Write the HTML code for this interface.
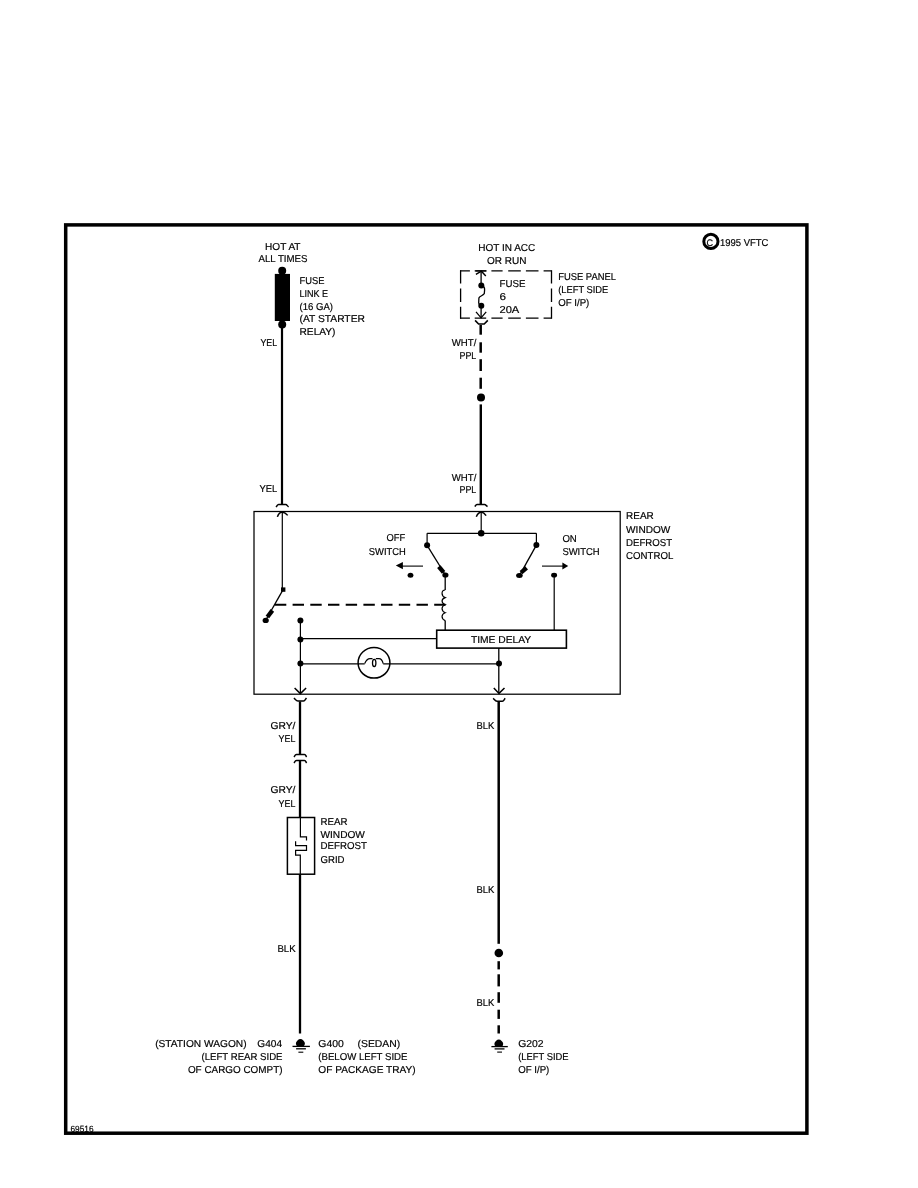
<!DOCTYPE html>
<html><head><meta charset="utf-8"><style>
html,body{margin:0;padding:0;background:#fff;overflow:hidden;width:918px;height:1188px;}
svg{display:block;will-change:transform;}
text{font-family:"Liberation Sans",sans-serif;fill:#000;stroke:#000;stroke-width:0.18px;text-rendering:geometricPrecision;}
</style></head><body>
<svg width="918" height="1188" viewBox="0 0 918 1188">
<rect x="0" y="0" width="918" height="1188" fill="#fff"/>
<g fill="none" stroke="#000" stroke-linecap="butt">
<!-- outer border -->
<rect x="65.7" y="224.9" width="741.2" height="908.3" stroke-width="3.5"/>

<!-- ===== Left top: fuse link ===== -->
<circle cx="282.2" cy="270.8" r="4" fill="#000" stroke="none"/>
<rect x="274.8" y="273.9" width="15.2" height="47.1" fill="#000" stroke="none"/>
<circle cx="282.2" cy="324.4" r="4" fill="#000" stroke="none"/>
<line x1="282" y1="324" x2="282" y2="504.2" stroke-width="2.2"/>
<!-- female connector -->
<path d="M276.2,507.1 C276.8,505.9 277.3,504.5 278.5,504.5 L285.8,504.5 C286.8,504.5 287.4,506.1 288.6,506.9" stroke-width="1.5"/>
<!-- male connector -->
<path d="M277.4,516.9 C278.3,514 280,512.2 282,511.9 C284,512.2 286.3,513.6 287.7,515.4" stroke-width="1.5"/>

<!-- ===== Right top: fuse panel ===== -->
<line x1="460.1" y1="270.9" x2="551.6" y2="270.9" stroke-width="1.3" stroke-dasharray="9.8 4.8 11.5 5.2 11.2 5.6 12.6 5.1 12.6 5.1 8 100"/>
<line x1="460.1" y1="318.1" x2="551.6" y2="318.1" stroke-width="1.3" stroke-dasharray="9.8 4.8 11.5 5.2 11.2 5.6 12.6 5.1 12.6 5.1 8 100"/>
<line x1="460.6" y1="270.2" x2="460.6" y2="318.8" stroke-width="1.3" stroke-dasharray="13.4 4.9"/>
<line x1="551.5" y1="270.2" x2="551.5" y2="318.8" stroke-width="1.3" stroke-dasharray="13.4 4.9"/>
<line x1="481.1" y1="271.5" x2="481.1" y2="285.3" stroke-width="1.3"/>
<path d="M475.9,274.4 L481.4,271.2 L485.8,276" stroke-width="1.4"/>
<line x1="475.5" y1="270.9" x2="486.5" y2="270.9" stroke-width="1.3"/>
<circle cx="481.3" cy="285.5" r="3" fill="#000" stroke="none"/>
<path d="M481.3,285.5 C483.5,286 484.8,287.5 484.6,290 L484.3,293.5 C483.5,295.5 479.5,296 478.9,298 L478.7,303 C478.8,304.5 480,305.5 481.2,305.8" stroke-width="1.3"/>
<circle cx="481.3" cy="305.8" r="3" fill="#000" stroke="none"/>
<line x1="481.1" y1="305.8" x2="481.1" y2="318" stroke-width="1.3"/>
<path d="M476,311.8 L481.1,317.8 L486.2,311.8" stroke-width="1.3"/>
<path d="M475.1,320.4 L478.6,324 L484.2,324 L487.8,320.4" stroke-width="1.6"/>
<!-- dashed WHT/PPL wire -->
<line x1="480.7" y1="325" x2="480.7" y2="334.7" stroke-width="2.5"/>
<line x1="480.7" y1="342.3" x2="480.7" y2="352.7" stroke-width="2.5"/>
<line x1="480.7" y1="359.2" x2="480.7" y2="371" stroke-width="2.5"/>
<line x1="480.7" y1="377.7" x2="480.7" y2="388.8" stroke-width="2.5"/>
<circle cx="481" cy="397.6" r="4" fill="#000" stroke="none"/>
<line x1="480.8" y1="404.4" x2="480.8" y2="504.2" stroke-width="2.4"/>
<path d="M474.9,506.6 C475.6,505.6 476,504.6 477,504.6 L484.6,504.6 C485.6,504.6 486.3,505.8 487.5,506.6" stroke-width="1.5"/>
<path d="M476.3,516.7 C477.5,514 479.5,512.3 481.3,512 C483.2,512.3 485,514 486.1,515.7" stroke-width="1.5"/>

<!-- ===== Control box ===== -->
<rect x="254" y="511.5" width="366.2" height="182.7" stroke-width="1.25"/>
<!-- left thin wire down to pivot -->
<line x1="282.3" y1="512" x2="282.3" y2="589.6" stroke-width="1.2"/>
<rect x="281" y="587.4" width="4.4" height="4.4" fill="#000" stroke="none"/>
<line x1="283.1" y1="589.6" x2="266" y2="619.8" stroke-width="1.3"/>
<line x1="272.4" y1="610.4" x2="267.4" y2="617" stroke-width="4.4"/>
<ellipse cx="265.7" cy="620.4" rx="3.1" ry="2.6" fill="#000" stroke="none"/>
<!-- dashed mechanical link -->
<line x1="274.9" y1="604.8" x2="445.5" y2="604.8" stroke-width="2" stroke-dasharray="11.4 6.3"/>

<!-- vertical left bus -->
<circle cx="300.4" cy="620.4" r="3" fill="#000" stroke="none"/>
<line x1="300.4" y1="620.4" x2="300.4" y2="693.5" stroke-width="1.2"/>
<circle cx="300.4" cy="639.4" r="3" fill="#000" stroke="none"/>
<circle cx="300.4" cy="663.4" r="3" fill="#000" stroke="none"/>
<path d="M294.6,688 L300.4,693.6 L306.1,688" stroke-width="1.5"/>
<line x1="300.4" y1="638.7" x2="436.7" y2="638.7" stroke-width="1.3"/>
<line x1="300.4" y1="663.95" x2="364.7" y2="663.95" stroke-width="1.3"/>
<line x1="383.2" y1="663.95" x2="499" y2="663.95" stroke-width="1.3"/>
<!-- lamp -->
<ellipse cx="374" cy="662.8" rx="15.9" ry="15.3" stroke-width="1.5"/>
<path d="M364.7,663.6 C366,660.5 367,658.6 370,658.6 L372.5,658.6 M375.8,658.6 L379,658.6 C381.5,658.6 382.4,660.5 383.2,663.6" stroke-width="1.2"/>
<ellipse cx="374.2" cy="663" rx="1.7" ry="3.6" stroke-width="1.3"/>

<!-- TIME DELAY -->
<rect x="436.7" y="630.2" width="129.7" height="17.9" stroke-width="1.6"/>
<line x1="498.8" y1="648.1" x2="498.8" y2="693.5" stroke-width="1.3"/>
<circle cx="499" cy="663.5" r="3" fill="#000" stroke="none"/>
<path d="M493.8,688 L499,693.4 L504.5,688" stroke-width="1.5"/>

<!-- top bus -->
<line x1="481.2" y1="512" x2="481.2" y2="533.4" stroke-width="1.2"/>
<line x1="427.1" y1="533.4" x2="536.4" y2="533.4" stroke-width="1.2"/>
<circle cx="481.2" cy="533.3" r="3.3" fill="#000" stroke="none"/>
<!-- OFF switch -->
<line x1="427.1" y1="533.3" x2="427.1" y2="545.3" stroke-width="1.2"/>
<circle cx="427.1" cy="545.3" r="3" fill="#000" stroke="none"/>
<line x1="427.1" y1="545.3" x2="445.4" y2="575" stroke-width="1.3"/>
<line x1="438.8" y1="566.6" x2="443.6" y2="572.4" stroke-width="4.4"/>
<ellipse cx="445.4" cy="575" rx="3.1" ry="2.6" fill="#000" stroke="none"/>
<line x1="423" y1="566.1" x2="402" y2="566.1" stroke-width="1.1"/>
<path d="M395.8,565.6 L402.9,562 L402.9,569.3 Z" fill="#000" stroke="none"/>
<ellipse cx="410.5" cy="575.3" rx="2.9" ry="2.5" fill="#000" stroke="none"/>
<!-- coil -->
<line x1="445.2" y1="575" x2="445.2" y2="590" stroke-width="1.3"/>
<path d="M445.2,590 C441,590 441,596 445.2,597.6 C441,599 441,603 445.2,604.7 C441,606 441,611 445.2,612.7 C441,614 441,619 445.2,620.6" stroke-width="1.2"/>
<line x1="445.2" y1="620.6" x2="445.2" y2="630.2" stroke-width="1.3"/>
<!-- ON switch -->
<line x1="536.4" y1="533.3" x2="536.4" y2="545.1" stroke-width="1.2"/>
<circle cx="536.4" cy="545.1" r="3" fill="#000" stroke="none"/>
<line x1="536.4" y1="545.1" x2="519.4" y2="575.6" stroke-width="1.3"/>
<line x1="526.6" y1="567.8" x2="521" y2="572.6" stroke-width="4.2"/>
<ellipse cx="519.4" cy="575.5" rx="3.3" ry="2.5" fill="#000" stroke="none"/>
<line x1="542" y1="566.1" x2="563" y2="566.1" stroke-width="1.1"/>
<path d="M568.2,566 L562.4,562.4 L562.4,569.6 Z" fill="#000" stroke="none"/>
<ellipse cx="554.1" cy="575.2" rx="2.95" ry="2.4" fill="#000" stroke="none"/>
<line x1="554.2" y1="575.2" x2="554.2" y2="630.2" stroke-width="1.2"/>

<!-- ===== bottom left ===== -->
<path d="M294,697.9 C295.5,699.5 296.5,701.1 298,701.1 L303.5,701.1 C305,701.1 305.5,699 306.5,697.9" stroke-width="1.5"/>
<line x1="300" y1="701.5" x2="300" y2="754.8" stroke-width="2.3"/>
<path d="M294,757 C294.8,756 295,754.6 296.5,754.6 L304.5,754.6 C305.8,754.6 305.8,756 306.6,757" stroke-width="1.5"/>
<path d="M294,763 C294.8,762 295,760.6 296.5,760.6 L304.5,760.6 C305.8,760.6 305.8,762 306.6,763" stroke-width="1.5"/>
<line x1="300" y1="760.5" x2="300" y2="817.5" stroke-width="2.3"/>
<rect x="287.4" y="817.5" width="27.2" height="56.7" stroke-width="1.5"/>
<path d="M300.4,817.5 V836.8 H306.5 V840.6 M295.6,841.2 V845.6 H306.5 V850.4 H295.6 V855.1 H300.3 V874.2" stroke-width="1.2"/>
<line x1="300" y1="874.2" x2="300" y2="1033.5" stroke-width="2.3"/>
<path d="M297.1,1046.4 A4.3,4.3 0 1 1 303.7,1046.4 Z" fill="#000" stroke="none"/>
<line x1="292.5" y1="1046.4" x2="309.9" y2="1046.4" stroke-width="1.3"/>
<line x1="296.1" y1="1048.8" x2="305.9" y2="1048.8" stroke-width="1.3"/>
<line x1="298.4" y1="1052.2" x2="303.3" y2="1052.2" stroke-width="1.1"/>

<!-- ===== bottom right ===== -->
<path d="M493.2,698.3 C494.6,699.8 495.5,701.3 497,701.3 L502.3,701.3 C503.8,701.3 504.2,699.3 505.2,698.3" stroke-width="1.5"/>
<line x1="498.7" y1="701.5" x2="498.7" y2="943.8" stroke-width="2.5"/>
<circle cx="498.8" cy="953" r="4.3" fill="#000" stroke="none"/>
<line x1="498.7" y1="961.2" x2="498.7" y2="969.4" stroke-width="2.5"/>
<line x1="498.7" y1="974.3" x2="498.7" y2="986.4" stroke-width="2.5"/>
<line x1="498.7" y1="992.2" x2="498.7" y2="1002.8" stroke-width="2.5"/>
<line x1="498.7" y1="1009.7" x2="498.7" y2="1018.9" stroke-width="2.5"/>
<line x1="498.7" y1="1025.3" x2="498.7" y2="1033.5" stroke-width="2.5"/>
<path d="M495.5,1046.6 A4.2,4.2 0 1 1 502.1,1046.6 Z" fill="#000" stroke="none"/>
<line x1="491.4" y1="1046.6" x2="507.8" y2="1046.6" stroke-width="1.3"/>
<line x1="494.6" y1="1048.9" x2="504.5" y2="1048.9" stroke-width="1.3"/>
<line x1="497.2" y1="1052.1" x2="502" y2="1052.1" stroke-width="1.1"/>

<!-- copyright circle -->
<circle cx="710.9" cy="241.4" r="7.1" stroke-width="3"/>
</g>
<text x="706.4" y="246" font-size="9.5" textLength="6.6" lengthAdjust="spacingAndGlyphs">C</text>

<g>
<text x="265.10" y="250.10" font-size="10.00" textLength="35.40" lengthAdjust="spacingAndGlyphs">HOT AT</text>
<text x="258.50" y="261.90" font-size="10.00" textLength="49.00" lengthAdjust="spacingAndGlyphs">ALL TIMES</text>
<text x="299.50" y="283.60" font-size="10.00" textLength="24.90" lengthAdjust="spacingAndGlyphs">FUSE</text>
<text x="299.50" y="297.20" font-size="10.00" textLength="28.60" lengthAdjust="spacingAndGlyphs">LINK E</text>
<text x="299.50" y="309.70" font-size="10.00" textLength="33.50" lengthAdjust="spacingAndGlyphs">(16 GA)</text>
<text x="299.50" y="321.50" font-size="10.00" textLength="65.40" lengthAdjust="spacingAndGlyphs">(AT STARTER</text>
<text x="299.50" y="334.70" font-size="10.00" textLength="36.00" lengthAdjust="spacingAndGlyphs">RELAY)</text>
<text x="260.50" y="345.70" font-size="10.00" textLength="16.60" lengthAdjust="spacingAndGlyphs">YEL</text>
<text x="478.30" y="250.90" font-size="10.00" textLength="57.00" lengthAdjust="spacingAndGlyphs">HOT IN ACC</text>
<text x="487.00" y="264.30" font-size="10.00" textLength="39.50" lengthAdjust="spacingAndGlyphs">OR RUN</text>
<text x="499.50" y="287.40" font-size="10.00" textLength="25.90" lengthAdjust="spacingAndGlyphs">FUSE</text>
<text x="499.50" y="300.40" font-size="10.00" textLength="6.50" lengthAdjust="spacingAndGlyphs">6</text>
<text x="499.50" y="313.10" font-size="10.00" textLength="19.80" lengthAdjust="spacingAndGlyphs">20A</text>
<text x="558.20" y="280.40" font-size="10.00" textLength="57.70" lengthAdjust="spacingAndGlyphs">FUSE PANEL</text>
<text x="558.20" y="293.30" font-size="10.00" textLength="50.10" lengthAdjust="spacingAndGlyphs">(LEFT SIDE</text>
<text x="558.20" y="306.10" font-size="10.00" textLength="31.10" lengthAdjust="spacingAndGlyphs">OF I/P)</text>
<text x="451.80" y="345.70" font-size="10.00" textLength="24.50" lengthAdjust="spacingAndGlyphs">WHT/</text>
<text x="459.50" y="358.90" font-size="10.00" textLength="16.80" lengthAdjust="spacingAndGlyphs">PPL</text>
<text x="451.80" y="480.60" font-size="10.00" textLength="24.50" lengthAdjust="spacingAndGlyphs">WHT/</text>
<text x="459.50" y="492.60" font-size="10.00" textLength="16.80" lengthAdjust="spacingAndGlyphs">PPL</text>
<text x="259.60" y="491.50" font-size="10.00" textLength="17.70" lengthAdjust="spacingAndGlyphs">YEL</text>
<text x="386.60" y="540.80" font-size="10.00" textLength="18.70" lengthAdjust="spacingAndGlyphs">OFF</text>
<text x="368.80" y="554.50" font-size="10.00" textLength="37.00" lengthAdjust="spacingAndGlyphs">SWITCH</text>
<text x="562.40" y="542.10" font-size="10.00" textLength="14.40" lengthAdjust="spacingAndGlyphs">ON</text>
<text x="562.40" y="554.50" font-size="10.00" textLength="37.30" lengthAdjust="spacingAndGlyphs">SWITCH</text>
<text x="626.10" y="519.10" font-size="10.00" textLength="27.70" lengthAdjust="spacingAndGlyphs">REAR</text>
<text x="626.10" y="532.70" font-size="10.00" textLength="44.20" lengthAdjust="spacingAndGlyphs">WINDOW</text>
<text x="626.10" y="545.60" font-size="10.00" textLength="46.00" lengthAdjust="spacingAndGlyphs">DEFROST</text>
<text x="626.10" y="559.20" font-size="10.00" textLength="47.20" lengthAdjust="spacingAndGlyphs">CONTROL</text>
<text x="470.90" y="642.60" font-size="10.00" textLength="60.30" lengthAdjust="spacingAndGlyphs">TIME DELAY</text>
<text x="270.40" y="729.00" font-size="10.00" textLength="25.00" lengthAdjust="spacingAndGlyphs">GRY/</text>
<text x="278.60" y="742.10" font-size="10.00" textLength="16.80" lengthAdjust="spacingAndGlyphs">YEL</text>
<text x="270.40" y="793.40" font-size="10.00" textLength="25.00" lengthAdjust="spacingAndGlyphs">GRY/</text>
<text x="278.60" y="806.90" font-size="10.00" textLength="16.80" lengthAdjust="spacingAndGlyphs">YEL</text>
<text x="320.50" y="825.40" font-size="10.00" textLength="27.00" lengthAdjust="spacingAndGlyphs">REAR</text>
<text x="320.50" y="837.50" font-size="10.00" textLength="44.40" lengthAdjust="spacingAndGlyphs">WINDOW</text>
<text x="320.50" y="849.40" font-size="10.00" textLength="46.30" lengthAdjust="spacingAndGlyphs">DEFROST</text>
<text x="320.50" y="862.90" font-size="10.00" textLength="24.00" lengthAdjust="spacingAndGlyphs">GRID</text>
<text x="277.40" y="951.50" font-size="10.00" textLength="18.20" lengthAdjust="spacingAndGlyphs">BLK</text>
<text x="476.50" y="728.70" font-size="10.00" textLength="17.80" lengthAdjust="spacingAndGlyphs">BLK</text>
<text x="476.50" y="893.00" font-size="10.00" textLength="17.90" lengthAdjust="spacingAndGlyphs">BLK</text>
<text x="476.60" y="1005.80" font-size="10.00" textLength="17.80" lengthAdjust="spacingAndGlyphs">BLK</text>
<text x="155.20" y="1047.10" font-size="10.00" textLength="91.40" lengthAdjust="spacingAndGlyphs">(STATION WAGON)</text>
<text x="257.30" y="1047.10" font-size="10.00" textLength="24.70" lengthAdjust="spacingAndGlyphs">G404</text>
<text x="201.50" y="1060.10" font-size="10.00" textLength="81.00" lengthAdjust="spacingAndGlyphs">(LEFT REAR SIDE</text>
<text x="187.90" y="1073.20" font-size="10.00" textLength="94.60" lengthAdjust="spacingAndGlyphs">OF CARGO COMPT)</text>
<text x="318.30" y="1047.10" font-size="10.00" textLength="25.50" lengthAdjust="spacingAndGlyphs">G400</text>
<text x="357.50" y="1047.10" font-size="10.00" textLength="42.70" lengthAdjust="spacingAndGlyphs">(SEDAN)</text>
<text x="318.30" y="1060.10" font-size="10.00" textLength="89.20" lengthAdjust="spacingAndGlyphs">(BELOW LEFT SIDE</text>
<text x="318.30" y="1073.20" font-size="10.00" textLength="97.40" lengthAdjust="spacingAndGlyphs">OF PACKAGE TRAY)</text>
<text x="518.20" y="1046.90" font-size="10.00" textLength="25.40" lengthAdjust="spacingAndGlyphs">G202</text>
<text x="518.20" y="1059.50" font-size="10.00" textLength="50.30" lengthAdjust="spacingAndGlyphs">(LEFT SIDE</text>
<text x="518.20" y="1073.00" font-size="10.00" textLength="31.10" lengthAdjust="spacingAndGlyphs">OF I/P)</text>
<text x="720.00" y="245.60" font-size="10.00" textLength="48.40" lengthAdjust="spacingAndGlyphs">1995 VFTC</text>
<text x="70.50" y="1131.50" font-size="9.00" textLength="23.00" lengthAdjust="spacingAndGlyphs">69516</text>
</g>
</svg>
</body></html>
